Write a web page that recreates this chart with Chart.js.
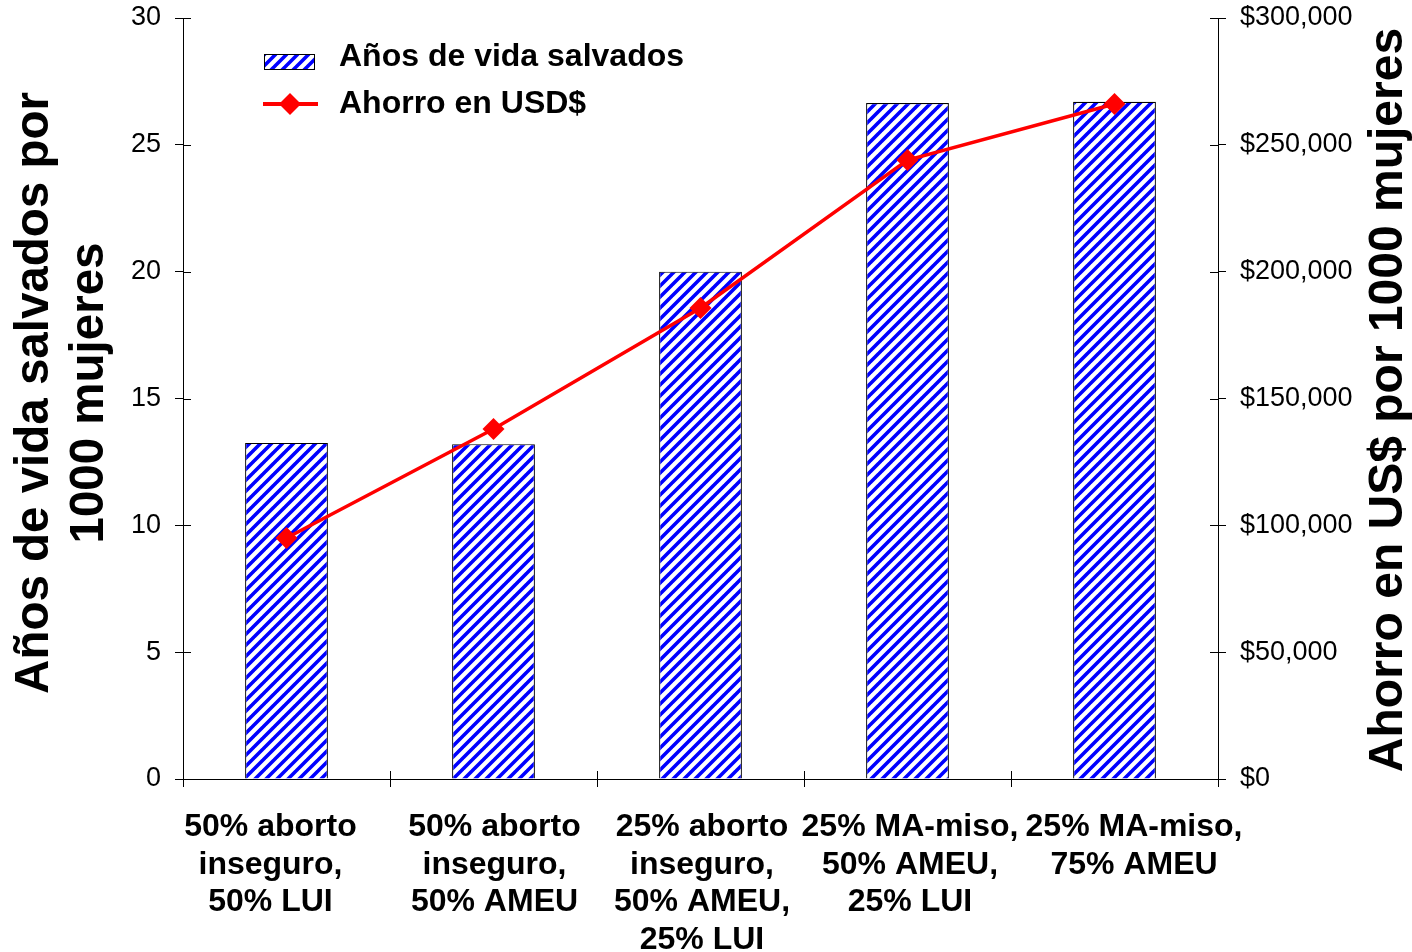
<!DOCTYPE html>
<html>
<head>
<meta charset="utf-8">
<script src="https://cdn.jsdelivr.net/npm/chart.js@4/dist/chart.umd.min.js"></script>
<style>
  html, body { margin: 0; padding: 0; background: #ffffff; }
  #wrap { width: 1412px; height: 952px; }
</style>
</head>
<body>
<div id="wrap"><canvas id="c" width="1412" height="952"></canvas></div>
<script>
// ---- data ----
const categories = [
  ["50% aborto", "inseguro,", "50% LUI"],
  ["50% aborto", "inseguro,", "50% AMEU"],
  ["25% aborto", "inseguro,", "50% AMEU,", "25% LUI"],
  ["25% MA-miso,", "50% AMEU,", "25% LUI"],
  ["25% MA-miso,", "75% AMEU"]
];
const yearsSaved = [13.25, 13.2, 20.0, 26.65, 26.7];
const savingsUSD = [95000, 138000, 185700, 244000, 266100];
const seriesNames = ["Años de vida salvados", "Ahorro en USD$"];
const leftTitle = ["Años de vida salvados por", "1000 mujeres"];
const rightTitle = "Ahorro en US$ por 1000 mujeres";
const leftTicks = { min: 0, max: 30, step: 5 };
const rightTicks = { min: 0, max: 300000, step: 50000 };

const FONT = '"Liberation Sans", Arial, Helvetica, sans-serif';
// horizontal nudge of category labels (Excel spreads the outer ones)
const LABEL_SHIFT = [-16, 1, 1.5, 2.5, 19.5];

// diagonal stripe pattern
function makePattern() {
  const s = 11;
  const t = document.createElement('canvas');
  t.width = s; t.height = s;
  const g = t.getContext('2d');
  g.fillStyle = '#ffffff';
  g.fillRect(0, 0, s, s);
  g.strokeStyle = '#0000ff';
  g.lineWidth = 3.6;
  g.beginPath();
  for (let k = -1; k <= 1; k++) {
    g.moveTo(k * s - 1, s + 1);
    g.lineTo(k * s + s + 1, -1);
  }
  g.stroke();
  return document.getElementById('c').getContext('2d').createPattern(t, 'repeat');
}
const stripe = makePattern();

function noPad(s) { s.paddingTop = 0; s.paddingBottom = 0; s.paddingLeft = 0; s.paddingRight = 0; }

const extras = {
  id: 'extras',
  afterDraw(chart) {
    const ctx = chart.ctx;
    const a = chart.chartArea;
    ctx.save();
    // inner tick marks
    ctx.strokeStyle = '#000';
    ctx.lineWidth = 1;
    ctx.beginPath();
    chart.scales.y.ticks.forEach((t, i) => {
      const y = Math.round(chart.scales.y.getPixelForTick(i)) + 0.5;
      ctx.moveTo(a.left, y); ctx.lineTo(a.left + 8, y);
    });
    chart.scales.y1.ticks.forEach((t, i) => {
      const y = Math.round(chart.scales.y1.getPixelForTick(i)) + 0.5;
      ctx.moveTo(a.right - 8, y); ctx.lineTo(a.right, y);
    });
    const n = categories.length;
    for (let i = 0; i <= n; i++) {
      const x = Math.round(a.left + (a.right - a.left) * i / n) + 0.5;
      ctx.moveTo(x, a.bottom - 8); ctx.lineTo(x, a.bottom);
    }
    ctx.stroke();

    // category labels
    const xs = chart.scales.x;
    ctx.fillStyle = '#000';
    ctx.textAlign = 'center';
    ctx.textBaseline = 'middle';
    ctx.font = 'bold 32px ' + FONT;
    categories.forEach((lines, i) => {
      const cx = xs.getPixelForValue(i) + LABEL_SHIFT[i];
      lines.forEach((ln, j) => ctx.fillText(ln, cx, a.bottom + 48 + j * 37.7));
    });

    // axis titles
    ctx.textBaseline = 'alphabetic';
    ctx.font = 'bold 47.5px ' + FONT;
    const cy = 393;
    ctx.save();
    ctx.translate(48, cy);
    ctx.rotate(-Math.PI / 2);
    ctx.fillText(leftTitle[0], 0, 0);
    ctx.restore();
    ctx.save();
    ctx.translate(103, cy);
    ctx.rotate(-Math.PI / 2);
    ctx.fillText(leftTitle[1], 0, 0);
    ctx.restore();
    ctx.font = 'bold 48px ' + FONT;
    ctx.save();
    ctx.translate(1402, 400);
    ctx.rotate(-Math.PI / 2);
    ctx.fillText(rightTitle, 0, 0);
    ctx.restore();

    // legend
    ctx.fillStyle = stripe;
    ctx.fillRect(264, 54, 50, 15);
    ctx.strokeStyle = '#000';
    ctx.lineWidth = 1;
    ctx.strokeRect(264.5, 54.5, 50, 15);
    ctx.strokeStyle = '#ff0000';
    ctx.lineWidth = 4;
    ctx.beginPath();
    ctx.moveTo(263, 104); ctx.lineTo(318, 104);
    ctx.stroke();
    ctx.fillStyle = '#ff0000';
    ctx.beginPath();
    ctx.moveTo(290, 93); ctx.lineTo(301, 104); ctx.lineTo(290, 115); ctx.lineTo(279, 104);
    ctx.closePath(); ctx.fill();
    ctx.fillStyle = '#000';
    ctx.textAlign = 'left';
    ctx.textBaseline = 'middle';
    ctx.font = 'bold 32px ' + FONT;
    ctx.fillText(seriesNames[0], 339, 57);
    ctx.fillText(seriesNames[1], 339, 104);
    ctx.restore();
  }
};

new Chart(document.getElementById('c'), {
  data: {
    labels: categories,
    datasets: [
      {
        type: 'line',
        label: seriesNames[1],
        data: savingsUSD,
        yAxisID: 'y1',
        borderColor: '#ff0000',
        backgroundColor: '#ff0000',
        borderWidth: 3.5,
        pointStyle: 'rectRot',
        pointRadius: 11,
        pointBorderWidth: 0,
        pointBackgroundColor: '#ff0000',
        tension: 0,
        order: 1
      },
      {
        type: 'bar',
        label: seriesNames[0],
        data: yearsSaved,
        yAxisID: 'y',
        backgroundColor: stripe,
        borderColor: '#000',
        borderWidth: 1.2,
        barPercentage: 0.4,
        categoryPercentage: 1.0,
        order: 2
      }
    ]
  },
  options: {
    responsive: false,
    animation: false,
    layout: { padding: { top: 18, left: 0, right: 0, bottom: 0 } },
    plugins: { legend: { display: false }, tooltip: { enabled: false } },
    scales: {
      x: {
        type: 'category',
        offset: true,
        grid: { display: true, drawOnChartArea: false, offset: true, tickLength: 8, color: '#000', lineWidth: 1 },
        border: { display: true, color: '#000', width: 1 },
        ticks: {
          autoSkip: false, maxRotation: 0, minRotation: 0,
          color: 'rgba(0,0,0,0)', padding: 20,
          font: { family: FONT, size: 32, weight: 'bold', lineHeight: 1.17 }
        },
        afterFit(s) { s.height = 173; noPad(s); }
      },
      y: {
        position: 'left',
        min: leftTicks.min, max: leftTicks.max,
        ticks: { stepSize: leftTicks.step, color: '#000', padding: 14, font: { family: FONT, size: 27 } },
        grid: { display: true, drawOnChartArea: false, tickLength: 8, color: '#000', lineWidth: 1 },
        border: { display: true, color: '#000', width: 1 },
        afterFit(s) { s.width = 183; noPad(s); }
      },
      y1: {
        position: 'right',
        min: rightTicks.min, max: rightTicks.max,
        ticks: {
          stepSize: rightTicks.step, color: '#000', padding: 14,
          font: { family: FONT, size: 27 },
          callback: v => '$' + Number(v).toLocaleString('en-US')
        },
        grid: { display: true, drawOnChartArea: false, tickLength: 8, color: '#000', lineWidth: 1 },
        border: { display: true, color: '#000', width: 1 },
        afterFit(s) { s.width = 194; noPad(s); }
      }
    }
  },
  plugins: [extras]
});
</script>
</body>
</html>
